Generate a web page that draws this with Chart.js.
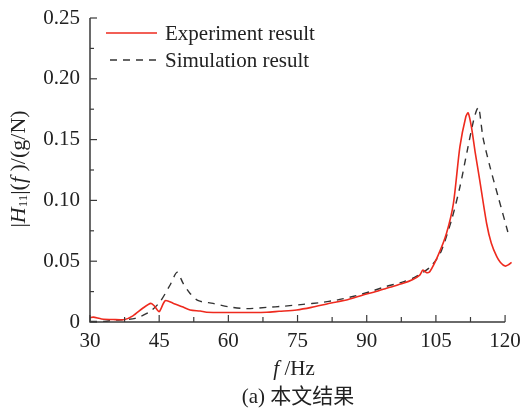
<!DOCTYPE html>
<html><head><meta charset="utf-8">
<script src="https://cdn.jsdelivr.net/npm/chart.js@4.4.1/dist/chart.umd.min.js"></script>
<style>html,body{margin:0;padding:0;background:#fff}#wrap{width:522px;height:408px}</style>
</head><body><div id="wrap"><canvas id="c" width="522" height="408"></canvas></div>
<script>
const experimentHz = [30,30.7,32.5,35,37.5,39.3,41.5,43.2,44,45,46.3,48,50,51.7,53.9,55.3,60,65,68.3,71,74.8,78,82,86,89.2,92,94.3,95,97.9,100,101.5,102.2,103,103.7,105.5,107.3,108.8,110.2,111.5,112,112.7,113.5,114.5,116,117,118.2,119,120,120.7,121.4];
const experimentValues = [0.0035,0.004,0.0025,0.002,0.002,0.005,0.0115,0.0153,0.013,0.0085,0.0175,0.0155,0.0125,0.0099,0.009,0.008,0.0078,0.0078,0.008,0.0088,0.0099,0.012,0.0154,0.0185,0.0222,0.025,0.0277,0.0285,0.0318,0.035,0.0386,0.0427,0.0405,0.0415,0.055,0.073,0.0976,0.144,0.169,0.172,0.1605,0.14,0.1167,0.081,0.065,0.0537,0.049,0.046,0.047,0.049];
const simulationHz = [30,33,35.8,39.8,43,45.2,47.3,48.9,50.2,51.7,53.5,56.7,60,64,68.3,72,76.2,80,83.5,87,90.7,94,97.9,100,102.3,103.7,105.9,108.4,110.2,111.8,113,113.8,114.3,115.2,116.7,118.5,120.6];
const simulationValues = [0.0005,0.0005,0.0016,0.003,0.0085,0.0167,0.030,0.041,0.0317,0.0235,0.0175,0.0153,0.0125,0.011,0.012,0.013,0.0145,0.016,0.018,0.021,0.0249,0.029,0.033,0.036,0.041,0.045,0.056,0.084,0.111,0.141,0.163,0.174,0.1765,0.152,0.128,0.103,0.074];
const xTickLabels = ['30','45','60','75','90','105','120'];
const yTickLabels = ['0','0.05','0.10','0.15','0.20','0.25'];
const seriesNames = ['Experiment result','Simulation result'];
const xTitle = ['f',' /Hz'];
const caption = '(a) 本文结果';

const FONT = '"Liberation Serif", "DejaVu Serif", serif';
const AXIS = '#3a3a3a';
const X_AXIS_END = 120;

const overlay = {
  id: 'overlay',
  afterDraw(chart) {
    const ctx = chart.ctx, xs = chart.scales.x, ys = chart.scales.y;
    const a = chart.chartArea;
    const xEnd = xs.getPixelForValue(X_AXIS_END);
    ctx.save();
    ctx.strokeStyle = AXIS; ctx.lineWidth = 1.5;
    ctx.beginPath();
    ctx.moveTo(a.left, a.top); ctx.lineTo(a.left, a.bottom); ctx.lineTo(xEnd, a.bottom);
    ctx.stroke();
    ctx.lineWidth = 1.2;
    for (let v = 30; v <= 120.001; v += 7.5) {
      const px = xs.getPixelForValue(v);
      const major = Math.abs(v/15 - Math.round(v/15)) < 1e-6;
      ctx.beginPath(); ctx.moveTo(px, a.bottom); ctx.lineTo(px, a.bottom - (major ? 7 : 5)); ctx.stroke();
    }
    for (let v = 0; v <= 0.25001; v += 0.025) {
      const py = ys.getPixelForValue(v);
      const major = Math.abs(v/0.05 - Math.round(v/0.05)) < 1e-6;
      ctx.beginPath(); ctx.moveTo(a.left, py); ctx.lineTo(a.left + (major ? 7 : 4), py); ctx.stroke();
    }
    // legend
    const ds = chart.data.datasets;
    ctx.font = '21px ' + FONT; ctx.fillStyle = '#222'; ctx.textBaseline = 'middle'; ctx.textAlign = 'left';
    const rows = [33, 60];
    ds.forEach((d, i) => {
      ctx.strokeStyle = d.borderColor; ctx.lineWidth = d.borderWidth;
      ctx.setLineDash(d.borderDash || []);
      ctx.beginPath(); ctx.moveTo(i === 0 ? 106 : 110, rows[i]); ctx.lineTo(157, rows[i]); ctx.stroke();
      ctx.setLineDash([]);
      ctx.fillText(d.label, 165, rows[i] + 1);
    });
    // y title rotated
    ctx.save();
    ctx.translate(19, 169);
    ctx.rotate(-Math.PI/2);
    const parts = [
      {t:'|', f:'22px '+FONT, dy:0},
      {t:'H', f:'italic 22px '+FONT, dy:0},
      {t:'11', f:'13px '+FONT, dy:5},
      {t:'|(', f:'22px '+FONT, dy:0},
      {t:'f', f:'italic 22px '+FONT, dy:0},
      {t:' )/(g/N)', f:'22px '+FONT, dy:0}
    ];
    let total = 0;
    parts.forEach(p => { ctx.font = p.f; p.w = ctx.measureText(p.t).width; total += p.w; });
    let x0 = -total/2;
    ctx.textBaseline = 'middle'; ctx.fillStyle = '#222';
    parts.forEach(p => { ctx.font = p.f; ctx.fillText(p.t, x0, p.dy); x0 += p.w; });
    ctx.restore();
    // x title
    ctx.font = 'italic 21px ' + FONT; const w1 = ctx.measureText(xTitle[0]).width;
    ctx.font = '21px ' + FONT; const w2 = ctx.measureText(xTitle[1]).width;
    let sx = 294 - (w1 + w2)/2;
    ctx.textBaseline = 'middle';
    ctx.font = 'italic 21px ' + FONT; ctx.fillText(xTitle[0], sx, 369);
    ctx.font = '21px ' + FONT; ctx.fillText(xTitle[1], sx + w1, 369);
    // caption
    ctx.textAlign = 'center';
    ctx.font = '21px ' + FONT + ', "Noto Sans CJK SC"';
    ctx.fillText(caption, 298, 397);
    ctx.restore();
  }
};

new Chart(document.getElementById('c'), {
  type: 'line',
  data: {
    datasets: [
      { label: seriesNames[0], data: experimentHz.map((x,i)=>({x, y: experimentValues[i]})),
        borderColor: '#ee2a1e', borderWidth: 1.6, pointRadius: 0, tension: 0.25, fill: false, clip: false },
      { label: seriesNames[1], data: simulationHz.map((x,i)=>({x, y: simulationValues[i]})),
        borderColor: '#333333', borderWidth: 1.4, borderDash: [7,6], pointRadius: 0, tension: 0.25, fill: false, clip: false }
    ]
  },
  options: {
    responsive: false, animation: false,
    layout: { padding: { top: 18, right: 10, left: 0, bottom: 0 } },
    plugins: { legend: { display: false }, tooltip: { enabled: false } },
    scales: {
      x: { type: 'linear', min: 30, max: 121.5,
        grid: { display: false, drawTicks: false }, border: { display: false },
        afterFit: s => { s.height = 86; s.paddingLeft = 0; s.paddingRight = 0; },
        afterBuildTicks: s => { s.ticks = xTickLabels.map(v => ({ value: Number(v) })); },
        ticks: { autoSkip: false, maxRotation: 0, padding: 7, color: '#222', font: { family: FONT, size: 21 },
          callback: v => xTickLabels.find(t => Number(t) === v) ?? '' } },
      y: { type: 'linear', min: 0, max: 0.25,
        grid: { display: false, drawTicks: false }, border: { display: false },
        afterFit: s => { s.width = 90; s.paddingTop = 0; s.paddingBottom = 0; },
        afterBuildTicks: s => { s.ticks = yTickLabels.map(v => ({ value: Number(v) })); },
        ticks: { padding: 10, color: '#222', font: { family: FONT, size: 21 },
          callback: v => yTickLabels.find(t => Math.abs(Number(t) - v) < 1e-9) ?? '' } }
    }
  },
  plugins: [overlay]
});
</script></body></html>
